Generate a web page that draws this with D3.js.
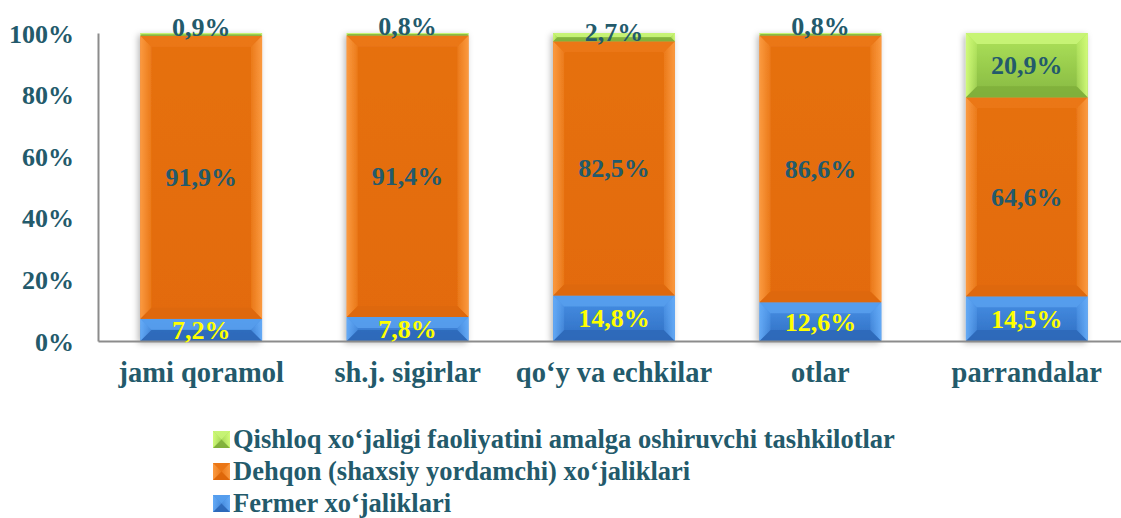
<!DOCTYPE html>
<html lang="uz">
<head>
<meta charset="UTF-8" />
<title>Chorva mollari – xo‘jalik toifalari bo‘yicha</title>
<script src="https://d3js.org/d3.v7.min.js"></script>
<style>
  body { margin: 0; background: #ffffff; }
  svg, .axis, .axis text {
    font-family: "Liberation Serif", "Times New Roman", serif;
    font-weight: bold;
  }
  svg { display: block; }
  .axis path { stroke: #8c8c8c; stroke-width: 2; }
  .axis text { fill: #235a6b; }
  .y-axis text { font-size: 26px; }
  .x-axis text { font-size: 28.5px; }
  .value-label { font-size: 26px; text-anchor: middle; }
  .legend text { font-size: 26.5px; fill: #235a6b; }
</style>
</head>
<body>
<svg id="chart" width="1121" height="518"></svg>
<script>
const categories = ["jami qoramol", "sh.j. sigirlar", "qo‘y va echkilar", "otlar", "parrandalar"];
const fermer = [7.2, 7.8, 14.8, 12.6, 14.5];
const dehqon = [91.9, 91.4, 82.5, 86.6, 64.6];
const tashkilot = [0.9, 0.8, 2.7, 0.8, 20.9];
const seriesKeys = ["fermer", "dehqon", "tashkilot"];
const seriesNames = [
  "Fermer xo‘jaliklari",
  "Dehqon (shaxsiy yordamchi) xo‘jaliklari",
  "Qishloq xo‘jaligi faoliyatini amalga oshiruvchi tashkilotlar"
];
const yTicks = [0, 20, 40, 60, 80, 100];

// bevel palette per series: face top/bottom, top edge, side edges (outer), bottom edge
const palette = {
  fermer:    { top: "#4891e6", bot: "#2f6ec2", edgeT: "#58a0ef", edgeS: "#64aaf6", edgeB: "#2d68b6", label: "#ffff00" },
  dehqon:    { top: "#e6700e", bot: "#e36b0a", edgeT: "#eb7818", edgeS: "#fb9a40", edgeB: "#dc670a", label: "#235a6b" },
  tashkilot: { top: "#aee35a", bot: "#86b841", edgeT: "#cbf77a", edgeS: "#d0fa78", edgeB: "#7eae3a", label: "#235a6b" }
};

const rows = categories.map((c, i) => ({
  cat: c, fermer: fermer[i], dehqon: dehqon[i], tashkilot: tashkilot[i]
}));
const stacked = d3.stack().keys(seriesKeys)(rows);

const svg = d3.select("#chart");
const defs = svg.append("defs");

const x = d3.scaleBand().domain(categories).range([98, 1130]).paddingInner(0.41).paddingOuter(0.205);
const y = d3.scaleLinear().domain([0, 100]).range([341, 33]);

const shadow = defs.append("filter").attr("id", "shadow")
  .attr("x", "-20%").attr("y", "-10%").attr("width", "140%").attr("height", "120%");
shadow.append("feDropShadow").attr("dx", -2).attr("dy", 2).attr("stdDeviation", 3)
  .attr("flood-color", "#000").attr("flood-opacity", 0.28);

seriesKeys.forEach(k => {
  const p = palette[k];
  const gr = defs.append("linearGradient").attr("id", `face-${k}`)
    .attr("x1", 0).attr("y1", 0).attr("x2", 0).attr("y2", 1);
  gr.append("stop").attr("offset", "0%").attr("stop-color", p.top);
  gr.append("stop").attr("offset", "100%").attr("stop-color", p.bot);
  // side edges fade from light outer rim into the face colour
  const l = defs.append("linearGradient").attr("id", `sideL-${k}`)
    .attr("x1", 0).attr("y1", 0).attr("x2", 1).attr("y2", 0);
  l.append("stop").attr("offset", "0%").attr("stop-color", p.edgeS);
  l.append("stop").attr("offset", "100%").attr("stop-color", p.edgeS).attr("stop-opacity", 0.25);
  const r = defs.append("linearGradient").attr("id", `sideR-${k}`)
    .attr("x1", 1).attr("y1", 0).attr("x2", 0).attr("y2", 0);
  r.append("stop").attr("offset", "0%").attr("stop-color", p.edgeS);
  r.append("stop").attr("offset", "100%").attr("stop-color", p.edgeS).attr("stop-opacity", 0.25);
});

function bevelBox(g, key, x0, y0, w, h, size) {
  const p = palette[key];
  const b = Math.min(size, h / 2, w / 2);
  g.append("rect").attr("x", x0).attr("y", y0).attr("width", w).attr("height", h)
    .attr("fill", `url(#face-${key})`);
  const x1 = x0 + w, y1 = y0 + h;
  const faces = [
    { pts: [[x0, y0], [x1, y0], [x1 - b, y0 + b], [x0 + b, y0 + b]], fill: p.edgeT, op: 0.85 },
    { pts: [[x0, y1], [x0 + b, y1 - b], [x1 - b, y1 - b], [x1, y1]], fill: p.edgeB, op: 0.8 },
    { pts: [[x0, y0], [x0 + b, y0 + b], [x0 + b, y1 - b], [x0, y1]], fill: `url(#sideL-${key})`, op: 1 },
    { pts: [[x1, y0], [x1 - b, y0 + b], [x1 - b, y1 - b], [x1, y1]], fill: `url(#sideR-${key})`, op: 1 }
  ];
  g.selectAll(null).data(faces).join("polygon")
    .attr("points", d => d.pts.map(q => q.join(",")).join(" "))
    .attr("fill", d => d.fill)
    .attr("fill-opacity", d => d.op);
}

// bars
const barLayer = svg.append("g");
categories.forEach((c, i) => {
  const g = barLayer.append("g").attr("filter", "url(#shadow)");
  stacked.forEach(layer => {
    const d = layer[i];
    const top = y(d[1]), bottom = y(d[0]);
    bevelBox(g, layer.key, x(c), top, x.bandwidth(), bottom - top, 11);
  });
});

// axes
const yAxis = svg.append("g").attr("class", "axis y-axis")
  .attr("transform", "translate(98,0)")
  .call(d3.axisLeft(y).tickValues(yTicks).tickFormat(d => d + "%").tickSize(0).tickSizeOuter(0).tickPadding(24));
yAxis.selectAll("text").attr("dy", "0.35em");

const xAxis = svg.append("g").attr("class", "axis x-axis")
  .attr("transform", "translate(0,341)")
  .call(d3.axisBottom(x).tickSize(0).tickSizeOuter(0).tickPadding(21));

// value labels
const fmt = v => String(v.toFixed(1)).replace(".", ",") + "%";
const labelLayer = svg.append("g");
stacked.forEach(layer => {
  labelLayer.selectAll(null).data(layer).join("text")
    .attr("class", "value-label")
    .attr("x", d => x(d.data.cat) + x.bandwidth() / 2)
    .attr("y", d => {
      const top = y(d[1]), bottom = y(d[0]);
      return bottom - top < 12 ? bottom : (top + bottom) / 2 + 9;
    })
    .attr("fill", palette[layer.key].label)
    .text(d => fmt(d.data[layer.key]));
});

// legend (top to bottom: reversed series order)
const legendItems = seriesKeys.map((k, i) => ({ key: k, name: seriesNames[i] })).reverse();
const legend = svg.append("g").attr("class", "legend");
legendItems.forEach((item, i) => {
  const base = 448 + i * 32;
  const g = legend.append("g");
  bevelBox(g, item.key, 213, base - 17, 17, 17, 8.5);
  g.append("text").attr("x", 233).attr("y", base).text(item.name);
});
</script>
</body>
</html>
